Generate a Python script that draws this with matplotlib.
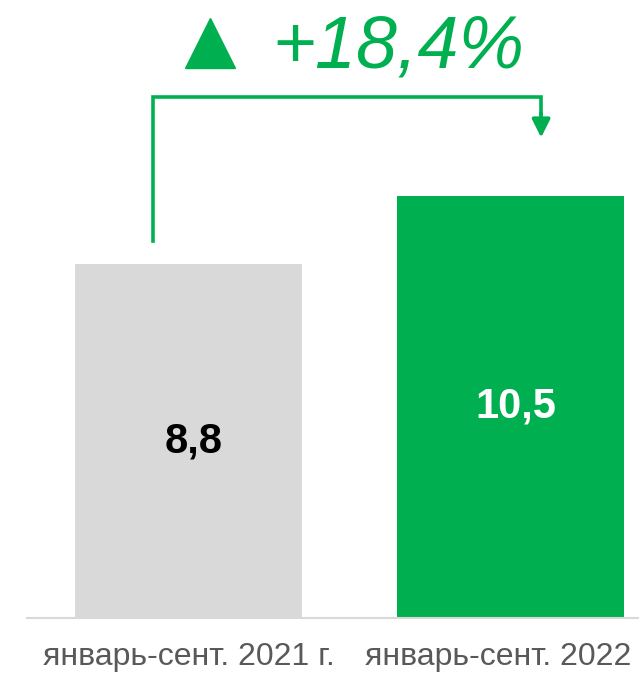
import numpy as np
import matplotlib.pyplot as plt

# data
periods = ['январь-сент. 2021 г.', 'январь-сент. 2022 г.']
values = [8.8, 10.5]
value_labels = ['8,8', '10,5']
change_label = '+18,4%'

# style
green = '#00B050'
grey = '#D9D9D9'
bar_colors = [grey, green]
label_colors = ['black', 'white']
plt.rcParams['font.family'] = ['Liberation Sans', 'DejaVu Sans']

fig = plt.figure(figsize=(6.39, 6.75), dpi=100)
ax = fig.add_axes([27 / 639, 57 / 675, 1 - 27 / 639, 618 / 675])

x_pos = np.arange(len(values))
ax.bar(x_pos, values, 0.705, color=bar_colors, zorder=2)

ax.set_xlim(-0.5016, 1.399)
ax.set_ylim(0, 15.37)

for x, v, lab, c in zip(x_pos, values, value_labels, label_colors):
    ax.text(x + 0.017, v / 2, lab, ha='center', va='center',
            fontsize=30, fontweight='bold', color=c)

# bracket with arrow
x_l = x_pos[0] - 0.110
x_r = x_pos[1] + 0.095
y_top = max(values) + 2.46
ax.plot([x_l, x_l, x_r, x_r], [values[0] + 0.58, y_top, y_top, y_top - 0.5],
        color=green, lw=2.6, solid_joinstyle='miter', clip_on=False)
ax.annotate('', xy=(x_r, max(values) + 1.45), xytext=(x_r, y_top - 0.4),
            arrowprops=dict(arrowstyle='-|>,head_length=11,head_width=5.5',
                            mutation_scale=1, color=green, lw=2.6,
                            shrinkA=0, shrinkB=0))

# triangle and percent
ax.plot([0.068], [14.29], marker='^', ms=36.7, color=green, clip_on=False)
ax.text(0.652, 13.70, change_label, ha='center', va='baseline',
        fontsize=53, fontstyle='italic', color=green)

# the second label runs past the right edge in the original too
ax.set_xticks(x_pos)
ax.set_xticklabels(periods, fontsize=23, color='#595959')
ax.tick_params(axis='x', length=0, pad=17)
ax.set_yticks([])
for s in ['top', 'right', 'left']:
    ax.spines[s].set_visible(False)
ax.spines['bottom'].set_color(grey)
ax.spines['bottom'].set_linewidth(1.5)

fig.savefig('out.png', dpi=100)
